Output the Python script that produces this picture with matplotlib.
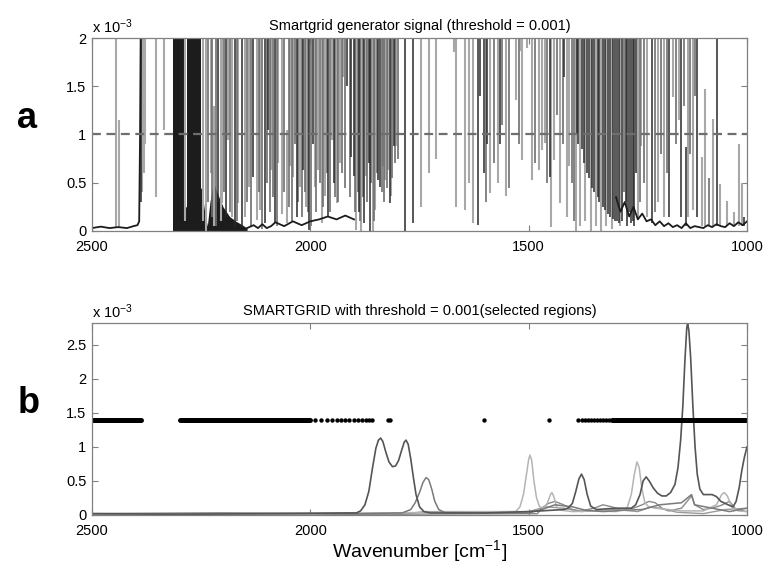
#!/usr/bin/env python3
"""Smartgrid generator signal (a) and selected regions over spectra (b)."""

import matplotlib
matplotlib.use("Agg")
import matplotlib.pyplot as plt

# ---- panel a: generator signal (values in units of 1e-3) ----
THRESHOLD = 1.0
OFF_SCALE = 2.5  # spikes that run past the top of the axis

light_wn = [2444, 2439, 2386, 2382, 2378, 2353, 2335, 2286, 2245, 2238, 2228, 2220, 2205,
            2203, 2188, 2180, 2165, 2150, 2140, 2123, 2115, 2089, 2073, 2066, 2054, 2047,
            2039, 2024, 2009, 1990, 1982, 1974, 1967, 1951, 1940, 1932, 1925, 1895, 1883,
            1873, 1857, 1851, 1834, 1828, 1822, 1815, 1804, 1746, 1729, 1712, 1672, 1666,
            1645, 1636, 1628, 1589, 1570, 1553, 1530, 1518, 1515, 1503, 1492, 1476, 1469,
            1463, 1450, 1441, 1428, 1413, 1408, 1392, 1382, 1370, 1358, 1346, 1334, 1322,
            1310, 1290, 1250, 1243, 1228, 1205, 1190, 1169, 1156, 1136, 1124, 1104, 1096,
            1079, 1063, 1045, 1030, 1018, 1012]
light_lo = [0.03, 0.03, 0.4, 0.6, 0.9, 0.35, 1.05, 0.1, 0.1, 0.0, 0.6, 0.05, 0.1,
            0.29, 0.94, 0.15, 0.29, 0.15, 0.46, 0.11, 0.22, 0.63, 0.70, 0.18, 0.08, 0.67,
            0.56, 0.46, 0.25, 0.46, 0.63, 0.08, 0.36, 0.94, 0.29, 0.70, 1.6, 0.01, 0.0,
            0.57, 0.0, 0.22, 0.67, 0.53, 0.63, 0.36, 0.88, 0.25, 0.6, 0.75, 1.85, 0.25,
            0.22, 0.5, 0.08, 0.39, 0.5, 0.36, 1.36, 1.87, 0.74, 1.9, 0.53, 0.63, 0.84,
            0.91, 0.04, 0.74, 0.29, 0.15, 0.67, 0.0, 0.05, 0.1, 0.0, 0.05, 0.0, 0.05,
            0.02, 0.05, 0.15, 0.88, 0.15, 0.3, 0.15, 1.39, 1.15, 0.15, 0.22, 0.05, 0.05,
            0.05, 0.05, 0.05, 0.05, 0.05, 0.05]
light_hi = [OFF_SCALE, 1.15] + [OFF_SCALE] * 9 + [1.3] + [OFF_SCALE] * 12 + [1.05] + \
           [OFF_SCALE] * 64 + [0.77, 1.47, 1.16, 0.49, 0.31, 0.2, 0.9, 0.5]

mid_wn = [2235, 2225, 2215, 2198, 2185, 2168, 2145, 2135, 2118, 2110, 2100, 2093, 2085,
          2077, 2060, 2050, 2043, 2035, 2028, 2020, 2012, 2005, 1998, 1986, 1978, 1970,
          1962, 1955, 1943, 1936, 1928, 1920, 1910, 1897, 1892, 1886, 1880, 1870, 1860,
          1854, 1848, 1837, 1831, 1825, 1812, 1806, 1800, 1598, 1580, 1560, 1545, 1522,
          1485, 1457, 1435, 1422, 1400, 1396, 1282, 1246, 1235, 1210, 1198, 1184, 1162,
          1145, 1130, 1118, 1088]
mid_lo = [0.3, 0.15, 0.05, 0.4, 0.2, 0.1, 0.3, 0.05, 0.4, 0.02, 0.5, 0.2, 0.35,
          0.05, 0.4, 0.25, 0.1, 0.9, 0.3, 0.15, 0.4, 0.2, 0.05, 0.2, 0.5, 0.25,
          0.6, 0.2, 0.35, 0.3, 0.6, 0.45, 0.35, 0.2, 0.4, 0.1, 0.35, 0.3, 0.5,
          0.1, 0.6, 0.4, 0.3, 0.45, 0.55, 0.7, 0.75, 0.3, 0.7, 1.1, 0.45, 0.9,
          0.7, 0.5, 1.2, 0.9, 0.5, 0.1, 0.4, 0.3, 0.5, 0.2, 0.8, 0.6, 0.9,
          1.3, 0.8, 1.4, 0.05]
mid_hi = [OFF_SCALE] * 68 + [0.55]

dark_wn = [2388, 2212, 2193, 2173, 2157, 2131, 2104, 2096, 2081, 2031, 2016, 2003, 1995,
           1959, 1946, 1916, 1906, 1901, 1889, 1878, 1866, 1863, 1845, 1840, 1818, 1809,
           1784, 1765, 1615, 1611, 1603, 1595, 1566, 1451, 1419, 1390, 1386, 1378, 1374,
           1366, 1362, 1354, 1350, 1342, 1338, 1330, 1326, 1318, 1314, 1306, 1302, 1298,
           1294, 1286, 1278, 1274, 1270, 1266, 1262, 1258, 1254, 1217, 1178, 1152, 1140,
           1114, 1069, 1007]
dark_lo = [0.3, 0.3, 0.15, 0.04, 0.04, 0.56, 0.08, 1.05, 0.08, 0.15, 0.63, 0.01, 0.9,
           0.15, 0.5, 1.5, 0.77, 0.57, 0.2, 0.08, 0.7, 0.0, 0.53, 0.46, 0.29, 0.88,
           0.0, 0.08, 0.06, 1.4, 0.6, 0.9, 0.9, 0.56, 1.6, 1.0, 0.9, 0.85, 0.7,
           0.6, 0.55, 0.45, 0.4, 0.35, 0.3, 0.25, 0.22, 0.18, 0.15, 0.12, 0.1, 0.1,
           0.08, 0.1, 0.3, 0.05, 0.2, 0.08, 0.1, 0.05, 0.6, 0.08, 0.15, 0.15, 0.05,
           0.15, 0.05, 0.05]
dark_hi = [OFF_SCALE] * 64 + [0.87, OFF_SCALE, OFF_SCALE, 0.15]

# saturated bands where the trace is solid black
block_start = [2315, 2282]
block_end = [2290, 2250]

# dense black floor under the first saturated bands
fill_wn = [2315, 2300, 2290, 2280, 2265, 2250, 2242, 2236, 2230, 2222, 2212, 2200,
           2185, 2170, 2155, 2145]
fill_top = [0.25, 0.3, 0.22, 0.28, 0.35, 0.45, 0.2, 0.05, 0.3, 0.5, 0.38, 0.25,
            0.15, 0.1, 0.06, 0.03]

# noisy baseline segments
floor1_wn = [2500, 2480, 2460, 2440, 2420, 2405, 2396, 2392, 2390, 2388]
floor1_val = [0.03, 0.045, 0.03, 0.04, 0.03, 0.05, 0.06, 0.1, 1.0, 2.5]
floor2_wn = [2145, 2130, 2120, 2110, 2100, 2090, 2080, 2060, 2040, 2020, 2000, 1980,
             1960, 1940, 1920, 1900]
floor2_val = [0.03, 0.06, 0.03, 0.07, 0.03, 0.05, 0.09, 0.05, 0.1, 0.06, 0.1, 0.12,
              0.15, 0.12, 0.16, 0.12]
floor3_wn = [1300, 1290, 1280, 1270, 1260, 1250, 1240, 1230, 1220, 1210, 1200, 1190,
             1180, 1170, 1160, 1150, 1140, 1130, 1120, 1110, 1100, 1090, 1080, 1070,
             1060, 1050, 1040, 1030, 1020, 1010, 1000]
floor3_val = [0.35, 0.2, 0.3, 0.15, 0.25, 0.12, 0.18, 0.1, 0.12, 0.06, 0.1, 0.05,
              0.08, 0.04, 0.06, 0.03, 0.08, 0.03, 0.05, 0.04, 0.03, 0.06, 0.04, 0.07,
              0.05, 0.04, 0.08, 0.05, 0.09, 0.06, 0.1]

# ---- panel b: spectra (values in units of 1e-3) ----
spec1_wn = [2500, 2300, 2100, 1920, 1895, 1885, 1875, 1866, 1858, 1850, 1844, 1839, 1834,
            1827, 1820, 1812, 1805, 1798, 1791, 1785, 1781, 1776, 1770, 1764, 1758, 1750,
            1740, 1725, 1600, 1500, 1420, 1410, 1400, 1392, 1385, 1379, 1373, 1366, 1358,
            1345, 1300, 1265, 1255, 1245, 1238, 1231, 1224, 1215, 1205, 1195, 1185, 1175,
            1165, 1158, 1152, 1147, 1142, 1138, 1136, 1133, 1129, 1124, 1119, 1114, 1108,
            1100, 1090, 1080, 1070, 1060, 1050, 1040, 1032, 1025, 1018, 1012, 1006, 1000]
spec1_val = [0.02, 0.01, 0.02, 0.03, 0.03, 0.06, 0.15, 0.35, 0.68, 0.98, 1.1, 1.13, 1.08,
             0.92, 0.78, 0.71, 0.72, 0.8, 0.95, 1.07, 1.1, 1.04, 0.82, 0.55, 0.3, 0.12,
             0.05, 0.03, 0.03, 0.05, 0.08, 0.1, 0.17, 0.35, 0.53, 0.6, 0.52, 0.3, 0.13,
             0.08, 0.1, 0.1, 0.15, 0.3, 0.5, 0.56, 0.5, 0.4, 0.32, 0.28, 0.28, 0.33,
             0.45, 0.7, 1.1, 1.6, 2.3, 2.75, 2.82, 2.7, 2.3, 1.6, 1.0, 0.6, 0.38,
             0.3, 0.3, 0.3, 0.27, 0.2, 0.17, 0.14, 0.12, 0.2, 0.4, 0.65, 0.85, 1.0]

spec2_wn = [2500, 2200, 1900, 1790, 1770, 1760, 1750, 1742, 1735, 1729, 1722, 1715, 1706,
            1690, 1500, 1470, 1440, 1400, 1370, 1330, 1280, 1240, 1200, 1150, 1127, 1120,
            1080, 1040, 1000]
spec2_val = [0.02, 0.03, 0.02, 0.03, 0.08, 0.18, 0.33, 0.48, 0.55, 0.52, 0.38, 0.2, 0.08,
             0.03, 0.03, 0.08, 0.15, 0.12, 0.07, 0.05, 0.07, 0.08, 0.15, 0.18, 0.3, 0.15,
             0.1, 0.05, 0.1]

spec3_wn = [2500, 2000, 1530, 1520, 1512, 1505, 1500, 1497, 1493, 1488, 1482, 1475, 1465,
            1457, 1450, 1447, 1443, 1436, 1425, 1400, 1350, 1300, 1275, 1265, 1258, 1252,
            1247, 1241, 1234, 1225, 1210, 1180, 1150, 1100, 1070, 1058, 1052, 1045, 1035,
            1020, 1000]
spec3_val = [0.02, 0.02, 0.05, 0.12, 0.3, 0.6, 0.82, 0.88, 0.8, 0.5, 0.25, 0.12, 0.1,
             0.18, 0.3, 0.33, 0.28, 0.12, 0.07, 0.05, 0.06, 0.05, 0.1, 0.3, 0.6, 0.78,
             0.7, 0.4, 0.18, 0.12, 0.1, 0.08, 0.06, 0.06, 0.15, 0.3, 0.33, 0.28, 0.12,
             0.06, 0.05]

spec4_wn = [2500, 1900, 1480, 1470, 1455, 1440, 1420, 1400, 1380, 1350, 1330, 1310, 1290,
            1260, 1240, 1225, 1210, 1195, 1180, 1150, 1127, 1120, 1100, 1080, 1060, 1040,
            1025, 1000]
spec4_val = [0.01, 0.01, 0.02, 0.1, 0.17, 0.2, 0.15, 0.08, 0.06, 0.1, 0.15, 0.12, 0.08,
             0.1, 0.15, 0.2, 0.18, 0.1, 0.06, 0.1, 0.28, 0.15, 0.08, 0.1, 0.14, 0.2,
             0.08, 0.05]

spec5_wn = [2500, 1800, 1740, 1500, 1460, 1420, 1380, 1300, 1250, 1220, 1200, 1160, 1100,
            1050, 1000]
spec5_val = [0.0, 0.0, 0.05, 0.05, 0.12, 0.1, 0.05, 0.08, 0.05, 0.12, 0.1, 0.04, 0.02,
             0.08, 0.1]

# selected regions (marker level in panel b)
SELECT_LEVEL = 1.4
sel_start = [2500, 2298, 1310]
sel_end = [2388, 2000, 1000]
sel_points = [1990, 1975, 1962, 1950, 1940, 1930, 1920, 1912, 1900, 1890, 1882, 1873,
              1865, 1858, 1822, 1818, 1602, 1453, 1387, 1378, 1372, 1365, 1358, 1351,
              1344, 1337, 1330, 1323, 1316]

X_TICKS = [2500, 2000, 1500, 1000]


def style_axes(ax, y_ticks, y_max):
    ax.set_xlim(2500, 1000)
    ax.set_ylim(0, y_max)
    ax.set_xticks(X_TICKS)
    ax.set_xticklabels([str(t) for t in X_TICKS])
    ax.set_yticks(y_ticks)
    ax.set_yticklabels([f"{t:g}" for t in y_ticks])
    ax.tick_params(direction="in", top=True, right=True, length=4, width=0.8,
                   color="#808080", labelsize=10.5)
    ax.tick_params(axis="x", pad=6.5)
    ax.tick_params(axis="y", pad=4)
    for spine in ax.spines.values():
        spine.set_color("#808080")
        spine.set_linewidth(0.9)
    ax.text(0.0, 1.012, r"x 10$^{\mathregular{-3}}$", transform=ax.transAxes,
            fontsize=10.5, ha="left", va="bottom")


def main():
    plt.rcParams.update({
        "font.family": ["Liberation Sans", "DejaVu Sans"],
        "mathtext.default": "regular",
        "figure.facecolor": "white",
    })
    fig = plt.figure(figsize=(7.65, 5.65), dpi=100)

    # panel a
    ax_a = fig.add_axes([0.1203, 0.5912, 0.8562, 0.3415])
    for start, end in zip(block_start, block_end):
        ax_a.axvspan(start, end, color="#1c1c1c", lw=0)
    ax_a.fill_between(fill_wn, 0, fill_top, color="#1c1c1c", lw=0)
    ax_a.vlines(light_wn, light_lo, light_hi, colors="#a8a8a8", lw=1.5)
    ax_a.vlines(mid_wn, mid_lo, mid_hi, colors="#6e6e6e", lw=1.2)
    ax_a.vlines(dark_wn, dark_lo, dark_hi, colors="#2a2a2a", lw=1.1)
    for wn, val in [(floor1_wn, floor1_val), (floor2_wn, floor2_val), (floor3_wn, floor3_val)]:
        ax_a.plot(wn, val, color="#1c1c1c", lw=1.3)
    ax_a.axhline(THRESHOLD, color="#6e6e6e", lw=1.6, dashes=(4, 2.5))
    style_axes(ax_a, [0, 0.5, 1, 1.5, 2], 2.0)
    ax_a.set_title("Smartgrid generator signal (threshold = 0.001)", fontsize=10.5, pad=6)

    # panel b
    ax_b = fig.add_axes([0.1203, 0.0885, 0.8562, 0.3398])
    ax_b.plot(spec5_wn, spec5_val, color="#9a9a9a", lw=1.0)
    ax_b.plot(spec4_wn, spec4_val, color="#8a8a8a", lw=1.0)
    ax_b.plot(spec3_wn, spec3_val, color="#b4b4b4", lw=1.1)
    ax_b.plot(spec2_wn, spec2_val, color="#7a7a7a", lw=1.1)
    ax_b.plot(spec1_wn, spec1_val, color="#555555", lw=1.2)
    ax_b.hlines([SELECT_LEVEL] * len(sel_start), sel_start, sel_end, colors="black",
                lw=3.6, capstyle="round")
    ax_b.scatter(sel_points, [SELECT_LEVEL] * len(sel_points), s=10, color="black", lw=0)
    style_axes(ax_b, [0, 0.5, 1, 1.5, 2, 2.5], 2.82)
    ax_b.set_title("SMARTGRID with threshold = 0.001(selected regions)", fontsize=10.5, pad=6)
    ax_b.set_xlabel(r"Wavenumber [cm$^{\mathregular{-1}}$]", fontsize=14, labelpad=0)

    fig.text(0.035, 0.79, "a", fontsize=26, fontweight="bold", ha="center", va="center")
    fig.text(0.038, 0.285, "b", fontsize=26, fontweight="bold", ha="center", va="center")

    fig.savefig("out.png", dpi=100)
    plt.close(fig)


if __name__ == "__main__":
    main()
